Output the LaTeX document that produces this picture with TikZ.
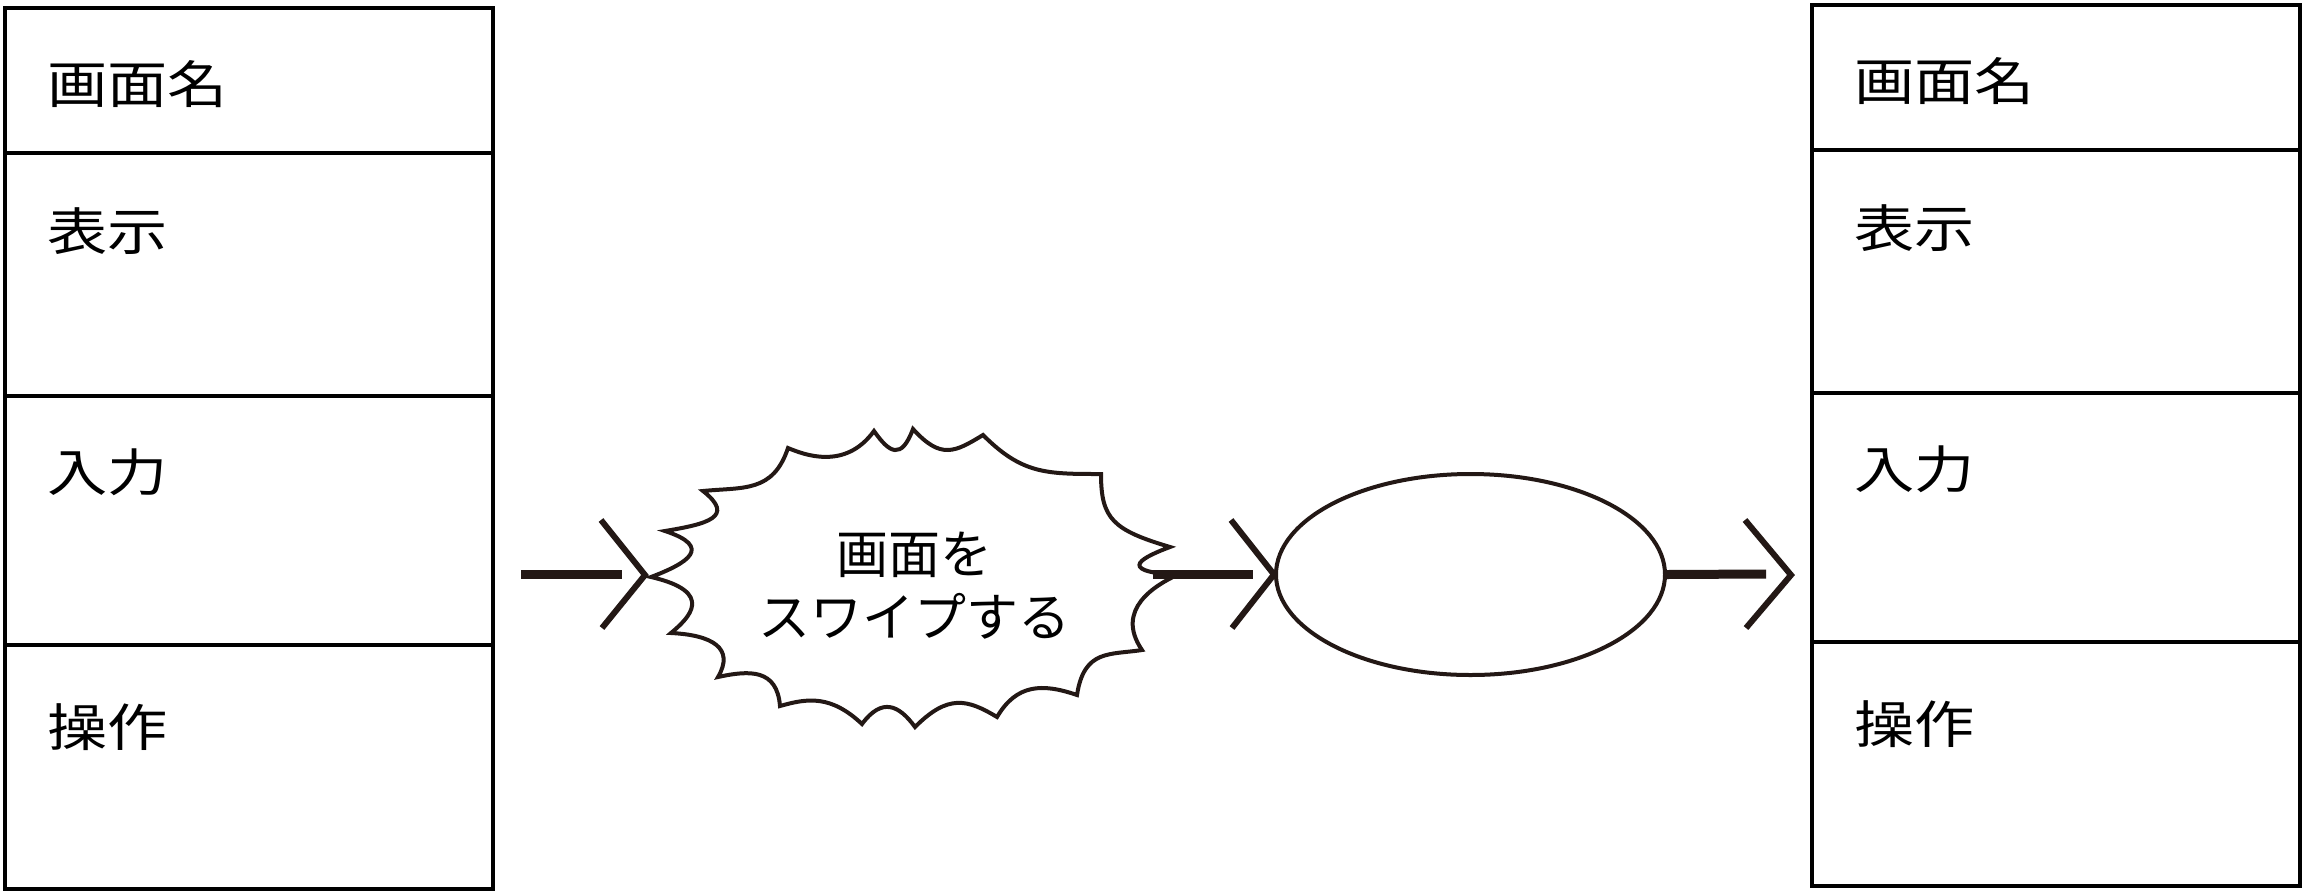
\documentclass[tikz,border=0pt]{standalone}
\usepackage{fontspec}
\newfontfamily\jpbox{Noto Sans CJK JP}[FakeStretch=1.18]
\newfontfamily\jp{Noto Sans CJK JP}
\usetikzlibrary{shapes.geometric}
\definecolor{ink}{HTML}{231815}
\begin{document}
\begin{tikzpicture}[x=1pt,y=-1pt,
  screenbox/.style={draw=black,line width=4pt,minimum width=488pt,minimum height=881pt,anchor=north west,inner sep=0pt},
  divider/.style={draw=black,line width=3.6pt},
  boxtxt/.style={anchor=west,inner sep=0pt,font=\jpbox\fontsize{51}{60}\selectfont},
  cloudtxt/.style={inner sep=0pt,align=center,font=\jp\fontsize{52}{63}\selectfont},
  cloudline/.style={draw=ink,line width=4pt,line join=miter,miter limit=10},
  shaft/.style={draw=ink,line width=9pt},
  chev/.style={draw=ink,line width=6pt,line join=miter,miter limit=10},
  oval/.style={draw=ink,line width=4pt,ellipse,minimum width=389pt,minimum height=201pt,inner sep=0pt}]
\useasboundingbox (0,0) rectangle (2304,892);
\fill[white] (0,0) rectangle (2304,892);

% left screen
\node[screenbox] (L) at (3,6) {};
\draw[divider] (3,153) -- (491,153);
\draw[divider] (3,396) -- (491,396);
\draw[divider] (3,645) -- (491,645);
\node[boxtxt] (l1) at (47,84) {画面名};
\node[boxtxt] (l2) at (47,231) {表示};
\node[boxtxt] (l3) at (47,472) {入力};
\node[boxtxt] (l4) at (47,727) {操作};

% right screen
\node[screenbox] (R) at (1810,3) {};
\draw[divider] (1810,150) -- (2298,150);
\draw[divider] (1810,393) -- (2298,393);
\draw[divider] (1810,642) -- (2298,642);
\node[boxtxt] (r1) at (1854,81) {画面名};
\node[boxtxt] (r2) at (1854,228) {表示};
\node[boxtxt] (r3) at (1854,469) {入力};
\node[boxtxt] (r4) at (1854,724) {操作};

% cloud (spiky speech burst)
\coordinate (p1) at (651,577);
\coordinate (p2) at (665,531);
\coordinate (p3) at (703,491);
\coordinate (p4) at (788,448);
\coordinate (p5) at (874,431);
\coordinate (p6) at (913,429);
\coordinate (p7) at (983,435);
\coordinate (p8) at (1101,474);
\coordinate (p9) at (1170,547);
\coordinate (p10) at (1177,575);
\coordinate (p11) at (1142,650);
\coordinate (p12) at (1077,695);
\coordinate (p13) at (997,717);
\coordinate (p14) at (915,727);
\coordinate (p15) at (862,724);
\coordinate (p16) at (780,706);
\coordinate (p17) at (718,677);
\coordinate (p18) at (671,633);
\draw[cloudline] (p1)
 .. controls (688,563) and (713.5,547) .. (p2)
 .. controls (707,524) and (736,517) .. (p3)
 .. controls (743,487) and (773,493) .. (p4)
 .. controls (803.5,454.4) and (845,471) .. (p5)
 .. controls (889.6,453.4) and (901.4,460) .. (p6)
 .. controls (941,460) and (955,452) .. (p7)
 .. controls (1022,474) and (1046,474) .. (p8)
 .. controls (1101,519) and (1113,530) .. (p9)
 .. controls (1146,556) and (1112,571) .. (p10)
 .. controls (1156,585) and (1114,609) .. (p11)
 .. controls (1110,655) and (1084,649) .. (p12)
 .. controls (1042,683) and (1016.5,684) .. (p13)
 .. controls (967,699) and (948,694) .. (p14)
 .. controls (899,705) and (882,697) .. (p15)
 .. controls (831,695) and (808,698) .. (p16)
 .. controls (777,669) and (750,670) .. (p17)
 .. controls (735,648) and (712,635) .. (p18)
 .. controls (689,618) and (716,592) .. cycle;
\node[cloudtxt] (ct) at (914,586) {画面を\\スワイプする};

% ellipse
\node[oval] (E) at (1470.5,574.5) {};

% arrows
\coordinate (a1s) at (521,574);  \coordinate (a1e) at (622,574);
\coordinate (a1u) at (601,520);  \coordinate (a1t) at (645,575);  \coordinate (a1d) at (602,628);
\draw[shaft] (a1s) -- (a1e);
\draw[chev] (a1u) -- (a1t) -- (a1d);

\coordinate (a2s) at (1153,574); \coordinate (a2e) at (1253,574);
\coordinate (a2u) at (1231,520); \coordinate (a2d) at (1232,628);
\draw[shaft] (a2s) -- (a2e);
\draw[chev] (a2u) -- (E.west) -- (a2d);

\coordinate (a3e) at (1766,574);
\coordinate (a3u) at (1745,520); \coordinate (a3t) at (1791,575); \coordinate (a3d) at (1746,628);
\draw[shaft] (E.east) -- (a3e);
\draw[chev] (a3u) -- (a3t) -- (a3d);
\end{tikzpicture}
\end{document}
